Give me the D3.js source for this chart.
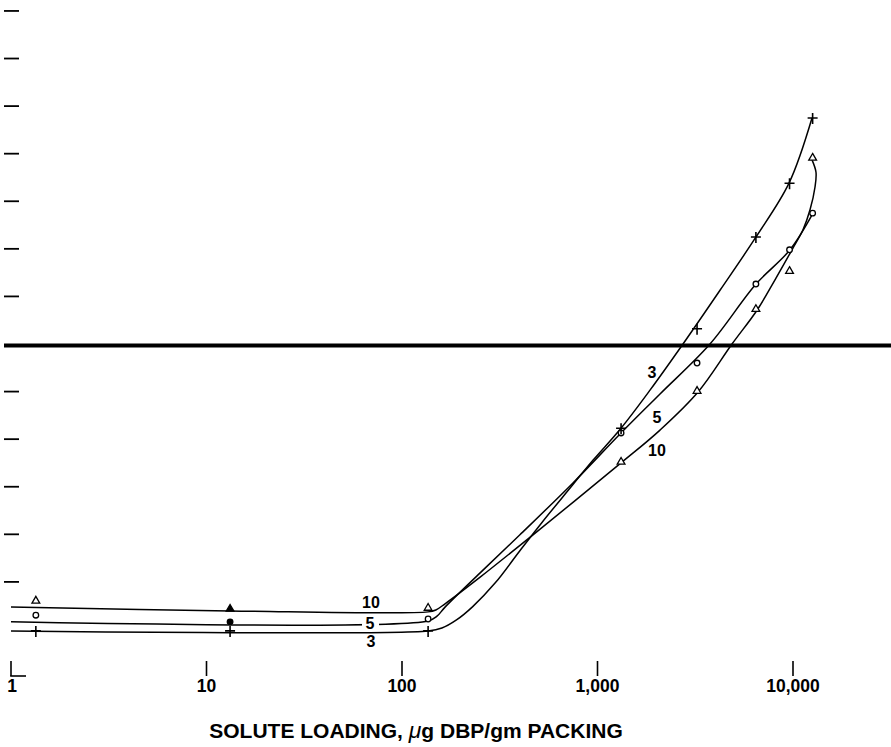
<!DOCTYPE html>
<html>
<head>
<meta charset="utf-8">
<script src="https://cdn.jsdelivr.net/npm/d3@7"></script>
<style>
  body { margin: 0; background: #fff; }
  text { font-family: "Liberation Sans", Arial, Helvetica, sans-serif; font-weight: bold; fill: #000; }
</style>
</head>
<body>
<div id="chart"></div>
<script>
var loadings = [1.34, 13.2, 136, 1320, 3230, 6460, 9600, 12600];
// y has no labels in the original, values are in tick units (0 = heavy line)
var series3 = [-6.03, -6.03, -6.03, -1.77, 0.32, 2.25, 3.38, 4.75];
var series5 = [-5.70, -5.84, -5.78, -1.87, -0.40, 1.26, 1.98, 2.75];
var series10 = [-5.42, -5.59, -5.57, -2.50, -1.01, 0.71, 1.51, 3.89];
var filledIndex = 1; // the 13 ug points are drawn solid

// hand drawn fitted curves, [loading, value]
var curve3 = [[1, -6.03], [136, -6.03], [160, -5.97], [190, -5.80], [230, -5.52], [300, -5.02],
  [400, -4.35], [520, -3.75], [700, -3.10], [950, -2.44], [1319, -1.77], [1856, -0.97], [2737, 0],
  [4233, 1.13], [6468, 2.25], [9539, 3.38], [12510, 4.75]];
var curve5 = [[1, -5.84], [136, -5.82], [151, -5.72], [166, -5.53], [251, -4.81], [401, -4.01],
  [749, -2.92], [1319, -1.87], [2088, -1.05], [3762, 0], [6468, 1.26], [9653, 1.98], [12657, 2.75]];
var curve10 = [[1, -5.53], [13.2, -5.61], [136, -5.63], [149, -5.59], [166, -5.46], [251, -4.90],
  [468, -4.01], [1319, -2.50], [2088, -1.81], [3267, -1.01], [4875, 0], [6545, 0.71],
  [8090, 1.35], [9883, 1.98], [11250, 2.40], [12220, 2.82], [12960, 3.30], [13110, 3.61], [12510, 3.87]];

var xTicks = [1, 10, 100, 1000, 10000];
var xTickLabels = ["1", "10", "100", "1,000", "10,000"];
var yTicks = [-5, -4, -3, -2, -1, 1, 2, 3, 4, 5, 6, 7];

var width = 891, height = 747;

var svg = d3.select("#chart").append("svg")
  .attr("width", width)
  .attr("height", height);

var x = d3.scaleLog().domain([1, 10000]).range([11, 793]);
var y = d3.scaleLinear().domain([0, 7]).range([344, 344 - 7 * 47.58]);

// left ticks, no numbers on them
svg.selectAll(".ytick")
  .data(yTicks)
  .enter()
  .append("line")
    .attr("x1", 4).attr("x2", 19)
    .attr("y1", function(d){ return y(d) }).attr("y2", function(d){ return y(d) })
    .attr("stroke", "#000")
    .attr("stroke-width", 1.8)

// heavy reference line
svg.append("line")
  .attr("x1", 4).attr("x2", width)
  .attr("y1", y(0) + 1.5).attr("y2", y(0) + 1.5)
  .attr("stroke", "#000")
  .attr("stroke-width", 4)

// bottom ticks, the first one is an L corner
var tickTop = 661, tickBottom = 676;
svg.selectAll(".xtick")
  .data(xTicks)
  .enter()
  .append("line")
    .attr("x1", function(d){ return x(d) }).attr("x2", function(d){ return x(d) })
    .attr("y1", tickTop).attr("y2", tickBottom)
    .attr("stroke", "#000")
    .attr("stroke-width", 1.6)
svg.append("line")
  .attr("x1", x(1) - 0.8).attr("x2", x(1) + 15)
  .attr("y1", tickBottom).attr("y2", tickBottom)
  .attr("stroke", "#000")
  .attr("stroke-width", 1.6)

svg.selectAll(".xlabel")
  .data(xTicks)
  .enter()
  .append("text")
    .attr("x", function(d){ return x(d) + (d == 1 ? 1 : 0) })
    .attr("y", 692)
    .attr("text-anchor", "middle")
    .style("font-size", "17.5px")
    .text(function(d, i){ return xTickLabels[i] })

var title = svg.append("text")
  .attr("x", 416)
  .attr("y", 738)
  .attr("text-anchor", "middle")
  .style("font-size", "21px")
title.append("tspan").text("SOLUTE LOADING, ")
title.append("tspan").style("font-style", "italic").style("font-weight", "normal").style("font-size", "23px").text("\u03bc")
title.append("tspan").text("g DBP/gm PACKING")

// curves
var line = d3.line()
  .x(function(d){ return x(d[0]) })
  .y(function(d){ return y(d[1]) })
  .curve(d3.curveCatmullRom.alpha(0.5))

;[curve3, curve5, curve10].forEach(function(c){
  svg.append("path")
    .attr("d", line(c))
    .attr("fill", "none")
    .attr("stroke", "#000")
    .attr("stroke-width", 1.5)
})

// markers
var tri = d3.symbol().type(d3.symbolTriangle).size(26);
svg.selectAll(".tri")
  .data(series10)
  .enter()
  .append("path")
    .attr("d", tri)
    .attr("transform", function(d, i){ return "translate(" + x(loadings[i]) + "," + (y(d) - 1) + ")" })
    .attr("fill", function(d, i){ return i == filledIndex ? "#000" : "#fff" })
    .attr("stroke", "#000")
    .attr("stroke-width", 1.3)

svg.selectAll(".circ")
  .data(series5)
  .enter()
  .append("circle")
    .attr("cx", function(d, i){ return x(loadings[i]) })
    .attr("cy", function(d){ return y(d) })
    .attr("r", 2.8)
    .attr("fill", function(d, i){ return i == filledIndex ? "#000" : "#fff" })
    .attr("stroke", "#000")
    .attr("stroke-width", 1.3)

svg.selectAll(".plus")
  .data(series3)
  .enter()
  .append("path")
    .attr("d", function(d, i){
      var cx = x(loadings[i]), cy = y(d);
      return "M" + (cx - 5) + "," + cy + "H" + (cx + 5) + "M" + cx + "," + (cy - 5) + "V" + (cy + 6);
    })
    .attr("stroke", "#000")
    .attr("stroke-width", 1.6)

// curve labels (the 5 sits on its line with a gap)
var labels = [
  {t: "10", lx: 371, ly: 608},
  {t: "5", lx: 370, ly: 629},
  {t: "3", lx: 371, ly: 647},
  {t: "3", lx: 652, ly: 378},
  {t: "5", lx: 657, ly: 423},
  {t: "10", lx: 657, ly: 456}
];
svg.append("rect")
  .attr("x", 362).attr("y", 617).attr("width", 17).attr("height", 13)
  .attr("fill", "#fff")
svg.selectAll(".clabel")
  .data(labels)
  .enter()
  .append("text")
    .attr("x", function(d){ return d.lx })
    .attr("y", function(d){ return d.ly })
    .attr("text-anchor", "middle")
    .style("font-size", "16px")
    .text(function(d){ return d.t })
</script>
</body>
</html>
